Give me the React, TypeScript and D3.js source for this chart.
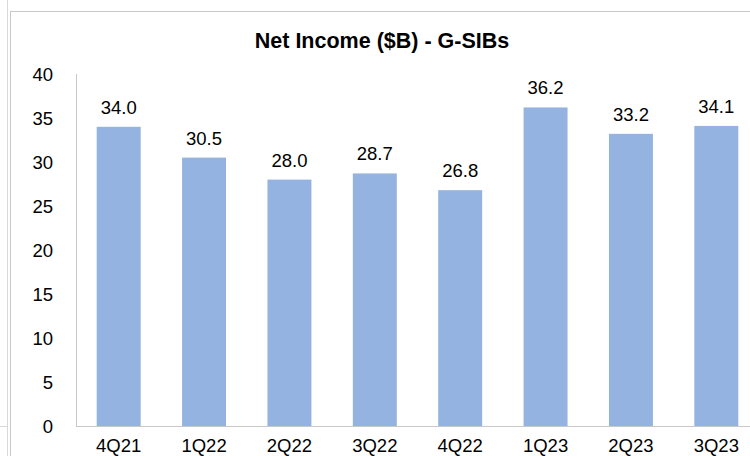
/**
 * Net Income ($B) - G-SIBs. Excel-style column chart, cropped on the right.
 */
import React, { useRef, useEffect } from 'react';
import * as d3 from 'd3';

const WIDTH = 750;
const HEIGHT = 456;

const quarters = ['4Q21', '1Q22', '2Q22', '3Q22', '4Q22', '1Q23', '2Q23', '3Q23'];
const netIncome = [34.0, 30.5, 28.0, 28.7, 26.8, 36.2, 33.2, 34.1];
const yTicks = [0, 5, 10, 15, 20, 25, 30, 35, 40];

const FONT = 'Liberation Sans, Arial, sans-serif';
const BAR_COLOR = '#95b3e0';
const GRID = '#c8c8c8';

const App: React.FC = () => {
  const svgRef = useRef<SVGSVGElement>(null);

  useEffect(() => {
    if (!svgRef.current) return;
    const svg = d3.select(svgRef.current);
    svg.selectAll('*').remove();

    // plot area (extends past the right edge, like the original crop)
    const left = 76;
    const right = 759;
    const top = 74;
    const bottom = 426;

    const x = d3.scaleBand<string>().domain(quarters).range([left, right]).paddingInner(0.485).paddingOuter(0.2425);
    const y = d3.scaleLinear().domain([0, 40]).range([bottom, top]);

    // frame lines from the surrounding sheet / chart border
    svg.append('line').attr('x1', 7.5).attr('x2', 7.5).attr('y1', 0).attr('y2', HEIGHT).attr('stroke', '#d9d9d9');
    svg.append('line').attr('x1', 0).attr('x2', 7).attr('y1', 426.5).attr('y2', 426.5).attr('stroke', '#d9d9d9');
    svg.append('line').attr('x1', 10.5).attr('x2', 10.5).attr('y1', 11).attr('y2', HEIGHT).attr('stroke', GRID);
    svg.append('line').attr('x1', 10).attr('x2', WIDTH).attr('y1', 11.5).attr('y2', 11.5).attr('stroke', GRID);

    // title
    svg
      .append('text')
      .attr('x', 382)
      .attr('y', 48)
      .attr('text-anchor', 'middle')
      .attr('font-family', FONT)
      .attr('font-size', '21.5px')
      .attr('font-weight', 'bold')
      .attr('fill', '#000')
      .text('Net Income ($B) - G-SIBs');

    // bars
    svg
      .append('g')
      .selectAll('rect')
      .data(netIncome)
      .join('rect')
      .attr('x', (_, i) => x(quarters[i]) ?? 0)
      .attr('y', (d) => y(d))
      .attr('width', x.bandwidth())
      .attr('height', (d) => y(0) - y(d))
      .attr('fill', BAR_COLOR);

    // value labels
    svg
      .append('g')
      .selectAll('text')
      .data(netIncome)
      .join('text')
      .attr('x', (_, i) => (x(quarters[i]) ?? 0) + x.bandwidth() / 2)
      .attr('y', (d) => y(d) - 13)
      .attr('text-anchor', 'middle')
      .attr('font-family', FONT)
      .attr('font-size', '18.5px')
      .attr('fill', '#000')
      .text((d) => d.toFixed(1));

    // y axis
    svg.append('line').attr('x1', left + 0.5).attr('x2', left + 0.5).attr('y1', top).attr('y2', bottom).attr('stroke', GRID);
    svg
      .append('g')
      .selectAll('text')
      .data(yTicks)
      .join('text')
      .attr('x', 53)
      .attr('y', (d) => y(d) + 6.5)
      .attr('text-anchor', 'end')
      .attr('font-family', FONT)
      .attr('font-size', '18.5px')
      .attr('fill', '#000')
      .text((d) => String(d));

    // x axis (labels sit at the very bottom edge, as in the cropped original)
    svg.append('line').attr('x1', left).attr('x2', WIDTH).attr('y1', bottom + 0.5).attr('y2', bottom + 0.5).attr('stroke', GRID);
    svg
      .append('g')
      .selectAll('text')
      .data(quarters)
      .join('text')
      .attr('x', (d) => (x(d) ?? 0) + x.bandwidth() / 2)
      .attr('y', 452)
      .attr('text-anchor', 'middle')
      .attr('font-family', FONT)
      .attr('font-size', '18.5px')
      .attr('fill', '#000')
      .text((d) => d);
  }, []);

  return (
    <svg
      ref={svgRef}
      width={WIDTH}
      height={HEIGHT}
      viewBox={`0 0 ${WIDTH} ${HEIGHT}`}
      style={{ position: 'fixed', left: 0, top: 0, background: '#fff' }}
    />
  );
};

export default App;
